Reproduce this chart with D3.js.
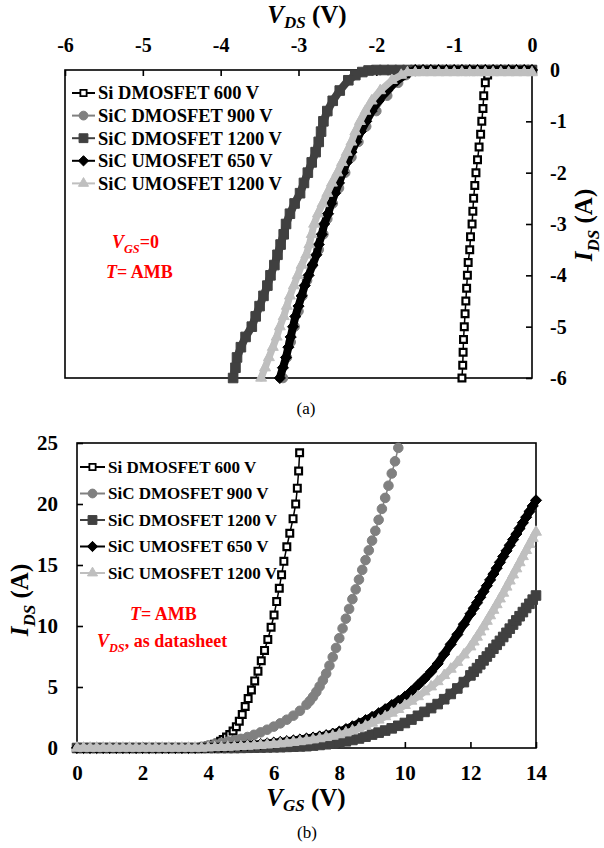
<!DOCTYPE html>
<html>
<head>
<meta charset="utf-8">
<script src="https://cdn.jsdelivr.net/npm/d3@7"></script>
<style>
  body { margin: 0; background: #fff; }
  svg, svg text { font-family: "Liberation Serif", "Times New Roman", serif; }
</style>
</head>
<body>
<div id="chart"></div>
<script>
// ---- series (same five devices in both panels) ----
const seriesNames = ["Si DMOSFET 600 V", "SiC DMOSFET 900 V", "SiC DMOSFET 1200 V", "SiC UMOSFET 650 V", "SiC UMOSFET 1200 V"];
const seriesStroke = ["#000", "#808080", "#404040", "#000", "#bfbfbf"];
const seriesFill = ["#fff", "#808080", "#404040", "#000", "#bfbfbf"];

// ---- (a) body diode, [V_DS, I_DS] ----
const vdsTicks = [-6, -5, -4, -3, -2, -1, 0];
const idsTicksA = [-6, -5, -4, -3, -2, -1, 0];

const siDmos600A = [[0,0],[-0.1,0],[-0.2,0],[-0.3,0],[-0.4,0],[-0.5,-0.02],[-0.57,-0.1],[-0.6,-0.25],[-0.62,-0.5],[-0.63,-0.75],
  [-0.645,-1],[-0.66,-1.25],[-0.68,-1.5],[-0.7,-1.75],[-0.72,-2],[-0.735,-2.25],[-0.75,-2.5],[-0.76,-2.75],[-0.77,-3],[-0.79,-3.25],
  [-0.8,-3.5],[-0.82,-3.75],[-0.83,-4],[-0.84,-4.25],[-0.85,-4.5],[-0.86,-4.75],[-0.87,-5],[-0.88,-5.25],[-0.885,-5.5],[-0.89,-5.75],[-0.9,-6]];

const sicDmos900A = [[0,0],[-0.3,0],[-0.6,0],[-0.9,0],[-1.2,0],[-1.5,-0.02],[-1.62,-0.1],[-1.72,-0.25],[-1.86,-0.5],[-2,-0.8],
  [-2.13,-1.1],[-2.23,-1.4],[-2.32,-1.7],[-2.4,-2],[-2.48,-2.3],[-2.56,-2.6],[-2.63,-2.9],[-2.68,-3.2],[-2.74,-3.5],[-2.82,-3.8],
  [-2.89,-4.1],[-2.95,-4.4],[-3,-4.7],[-3.05,-5],[-3.1,-5.3],[-3.15,-5.6],[-3.2,-6]];

const sicDmos1200A = [[0,0],[-0.1,0],[-0.2,0],[-0.3,0],[-0.4,0],[-0.5,0],[-0.6,0],[-0.7,0],[-0.8,0],[-0.9,0],
  [-1,0],[-1.1,0],[-1.2,0],[-1.3,0],[-1.4,0],[-1.5,0],[-1.6,0],[-1.7,0],[-1.8,0],[-1.9,0],
  [-2,0],[-2.1,-0.01],[-2.18,-0.04],[-2.27,-0.1],[-2.36,-0.2],[-2.47,-0.4],[-2.56,-0.6],[-2.63,-0.8],[-2.68,-1],[-2.71,-1.2],
  [-2.74,-1.4],[-2.78,-1.6],[-2.83,-1.8],[-2.88,-2],[-2.93,-2.2],[-2.98,-2.4],[-3.05,-2.6],[-3.11,-2.8],[-3.16,-3],[-3.19,-3.2],
  [-3.23,-3.4],[-3.27,-3.6],[-3.31,-3.8],[-3.36,-4],[-3.4,-4.2],[-3.45,-4.4],[-3.5,-4.6],[-3.55,-4.8],[-3.6,-5],[-3.68,-5.2],
  [-3.74,-5.4],[-3.79,-5.6],[-3.81,-5.8],[-3.84,-6]];

const sicUmos650A = [[0,0],[-0.1,0],[-0.2,0],[-0.3,0],[-0.4,0],[-0.5,0],[-0.6,0],[-0.7,0],[-0.8,0],[-0.9,0],
  [-1,0],[-1.1,0],[-1.2,0],[-1.3,0],[-1.4,0],[-1.5,0],[-1.58,-0.05],[-1.73,-0.2],[-1.86,-0.4],[-1.97,-0.6],
  [-2.06,-0.8],[-2.13,-1],[-2.2,-1.2],[-2.26,-1.4],[-2.32,-1.6],[-2.38,-1.8],[-2.43,-2],[-2.48,-2.2],[-2.53,-2.4],[-2.58,-2.6],
  [-2.62,-2.8],[-2.67,-3],[-2.7,-3.2],[-2.74,-3.4],[-2.77,-3.6],[-2.82,-3.8],[-2.87,-4],[-2.92,-4.2],[-2.96,-4.4],[-3,-4.6],
  [-3.04,-4.8],[-3.07,-5],[-3.1,-5.2],[-3.13,-5.4],[-3.16,-5.6],[-3.2,-5.8],[-3.24,-6]];

const sicUmos1200A = [[0,-0.05],[-0.1,-0.05],[-0.2,-0.05],[-0.3,-0.05],[-0.4,-0.05],[-0.5,-0.05],[-0.6,-0.05],[-0.7,-0.05],[-0.8,-0.05],[-0.9,-0.05],
  [-1,-0.05],[-1.1,-0.05],[-1.2,-0.05],[-1.3,-0.05],[-1.4,-0.05],[-1.5,-0.05],[-1.6,-0.05],[-1.68,-0.1],[-1.8,-0.2],[-1.95,-0.4],
  [-2.06,-0.6],[-2.14,-0.8],[-2.21,-1],[-2.27,-1.2],[-2.32,-1.4],[-2.38,-1.6],[-2.44,-1.8],[-2.5,-2],[-2.57,-2.2],[-2.63,-2.4],
  [-2.69,-2.6],[-2.75,-2.8],[-2.8,-3],[-2.83,-3.2],[-2.86,-3.4],[-2.9,-3.6],[-2.96,-3.8],[-3.01,-4],[-3.06,-4.2],[-3.11,-4.4],
  [-3.15,-4.6],[-3.19,-4.8],[-3.24,-5],[-3.28,-5.2],[-3.33,-5.4],[-3.38,-5.6],[-3.43,-5.8],[-3.48,-6]];

// ---- (b) transfer, V_GS sweep and I_DS ----
const vgsTicks = [0, 2, 4, 6, 8, 10, 12, 14];
const idsTicksB = [0, 5, 10, 15, 20, 25];

const siDmos600B = [[0,0],[0.2,0],[0.4,0],[0.6,0],[0.8,0],[1,0],[1.2,0],[1.4,0],[1.6,0],[1.8,0],
  [2,0],[2.2,0],[2.4,0],[2.6,0],[2.8,0],[3,0],[3.2,0],[3.4,0],[3.6,0],[3.7,0.02],
  [3.8,0.05],[3.9,0.1],[4,0.16],[4.1,0.23],[4.2,0.31],[4.3,0.42],[4.38,0.55],[4.46,0.7],[4.56,0.9],[4.66,1.1],
  [4.76,1.4],[4.86,1.75],[4.95,2.2],[5.04,2.75],[5.13,3.4],[5.22,4.05],[5.32,4.75],[5.42,5.5],[5.52,6.3],[5.62,7.15],
  [5.72,8],[5.82,8.9],[5.92,9.9],[6.01,10.9],[6.09,12],[6.17,13.1],[6.24,14.2],[6.31,15.3],[6.4,16.5],[6.49,17.6],
  [6.59,18.8],[6.67,20],[6.72,21.3],[6.76,22.7],[6.79,24.2]];

const sicDmos900B = [[0,0],[0.2,0],[0.4,0],[0.6,0],[0.8,0],[1,0],[1.2,0],[1.4,0],[1.6,0],[1.8,0],
  [2,0],[2.2,0],[2.4,0],[2.6,0],[2.8,0],[3,0],[3.2,0],[3.4,0],[3.6,0],[3.8,0.1],
  [4,0.2],[4.2,0.3],[4.4,0.42],[4.6,0.52],[4.8,0.63],[5,0.75],[5.2,0.9],[5.4,1.08],[5.6,1.28],[5.8,1.5],
  [6,1.75],[6.2,2.02],[6.4,2.32],[6.6,2.65],[6.8,3.05],[7,3.55],[7.1,3.85],[7.2,4.2],[7.3,4.6],[7.4,5.05],
  [7.5,5.55],[7.6,6.1],[7.7,6.75],[7.8,7.45],[7.9,8.2],[8,9],[8.1,9.8],[8.2,10.6],[8.3,11.4],[8.4,12.2],
  [8.5,13],[8.6,13.8],[8.7,14.6],[8.8,15.4],[8.9,16.2],[9,17],[9.1,17.8],[9.2,18.7],[9.3,19.6],[9.4,20.5],
  [9.5,21.5],[9.6,22.5],[9.7,23.5],[9.8,24.6]];

// shared gate sweep for the three slower SiC parts
const vgsSweep = [0,0.2,0.4,0.6,0.8,1,1.2,1.4,1.6,1.8,
  2,2.2,2.4,2.6,2.8,3,3.2,3.4,3.6,3.8,
  4,4.2,4.4,4.6,4.8,5,5.2,5.4,5.6,5.8,
  6,6.2,6.4,6.6,6.8,7,7.2,7.4,7.6,7.8,
  8,8.2,8.4,8.6,8.8,9,9.2,9.4,9.6,9.8,
  10,10.2,10.4,10.6,10.8,11,11.2,11.4,11.6,11.8,
  12,12.1,12.2,12.3,12.4,12.5,12.6,12.7,12.8,12.9,
  13,13.1,13.2,13.3,13.4,13.5,13.6,13.7,13.8,13.9,
  14];

const sicDmos1200B = [0,0,0,0,0,0,0,0,0,0,
  0,0,0,0,0,0,0,0,0,0,
  0,0,0,0,0,0.01,0.02,0.03,0.04,0.05,
  0.06,0.07,0.09,0.11,0.13,0.15,0.2,0.25,0.31,0.38,
  0.45,0.55,0.66,0.78,0.93,1.1,1.26,1.43,1.61,1.82,
  2.05,2.33,2.64,2.96,3.27,3.6,4,4.43,4.88,5.4,
  5.95,6.25,6.55,6.86,7.18,7.5,7.82,8.14,8.46,8.78,
  9.1,9.44,9.78,10.12,10.46,10.8,11.14,11.48,11.82,12.16,
  12.5];

const sicUmos650B = [0,0,0,0,0,0,0,0,0,0,
  0,0,0,0,0,0,0,0,0.01,0.03,
  0.05,0.07,0.09,0.12,0.16,0.2,0.24,0.28,0.32,0.38,
  0.44,0.5,0.56,0.62,0.7,0.78,0.86,0.95,1.05,1.18,
  1.35,1.55,1.78,2.02,2.28,2.55,2.85,3.18,3.52,3.86,
  4.2,4.65,5.15,5.68,6.25,6.9,7.7,8.5,9.3,10.15,
  11,11.45,11.9,12.35,12.82,13.3,13.78,14.26,14.74,15.22,
  15.7,16.16,16.62,17.08,17.54,18,18.46,18.92,19.38,19.84,
  20.3];

const sicUmos1200B = [0,0,0,0,0,0,0,0,0,0,
  0,0,0,0,0,0,0,0,0,0,
  0.02,0.04,0.06,0.08,0.1,0.13,0.16,0.19,0.22,0.26,
  0.3,0.35,0.41,0.47,0.53,0.6,0.68,0.77,0.87,0.98,
  1.1,1.25,1.41,1.59,1.8,2.05,2.3,2.58,2.87,3.17,
  3.5,3.85,4.22,4.62,5.02,5.45,5.95,6.47,7.03,7.64,
  8.3,8.7,9.1,9.52,9.95,10.4,10.85,11.3,11.76,12.23,
  12.7,13.2,13.7,14.2,14.7,15.2,15.7,16.2,16.7,17.2,
  17.7];

// ---- markers ----
const diamond = {
  draw(ctx, size) {
    const r = Math.sqrt(size / 2);
    ctx.moveTo(0, -r); ctx.lineTo(r, 0); ctx.lineTo(0, r); ctx.lineTo(-r, 0); ctx.closePath();
  }
};
const shapes = [d3.symbolSquare, d3.symbolCircle, d3.symbolSquare, diamond, d3.symbolTriangle];
const markerSize = [46, 72, 92, 62, 52];
const markerStroke = [2.2, 1, 1, 1, 1];
// the dense SiC markers merge into a solid band in the original
const bandWidth = [1.5, 1.5, 8, 8, 7];

const svg = d3.select("#chart").append("svg")
  .attr("width", 604)
  .attr("height", 848);
svg.append("rect").attr("width", 604).attr("height", 848).attr("fill", "#fff");

function drawSeries(g, x, y, pts, i) {
  g.append("path")
    .datum(pts)
    .attr("fill", "none")
    .attr("stroke", seriesStroke[i])
    .attr("stroke-width", bandWidth[i])
    .attr("stroke-linejoin", "round")
    .attr("stroke-linecap", "round")
    .attr("d", d3.line().x(d => x(d[0])).y(d => y(d[1])));
  g.append("g")
    .selectAll("path")
    .data(pts)
    .join("path")
    .attr("transform", d => `translate(${x(d[0])},${y(d[1])})`)
    .attr("d", d3.symbol(shapes[i], markerSize[i]))
    .attr("fill", seriesFill[i])
    .attr("stroke", seriesStroke[i])
    .attr("stroke-width", markerStroke[i]);
}

function drawLegend(g, x0, y0, step, len, fs, k) {
  seriesNames.forEach((name, i) => {
    const y = y0 + i * step;
    g.append("line")
      .attr("x1", x0).attr("x2", x0 + len).attr("y1", y).attr("y2", y)
      .attr("stroke", seriesStroke[i]).attr("stroke-width", 2);
    g.append("path")
      .attr("transform", `translate(${x0 + len / 2},${y})`)
      .attr("d", d3.symbol(shapes[i], markerSize[i] * k)())
      .attr("fill", seriesFill[i])
      .attr("stroke", seriesStroke[i])
      .attr("stroke-width", i === 0 ? 1.8 : 1);
    g.append("text")
      .attr("x", x0 + len + 3).attr("y", y).attr("dy", "0.35em")
      .attr("font-size", fs).attr("font-weight", "bold")
      .text(name);
  });
}

// text with italic / subscript runs
function richText(g, x, y, parts, o) {
  const t = g.append("text")
    .attr("x", x).attr("y", y)
    .attr("font-size", o.size)
    .attr("font-weight", "bold")
    .attr("fill", o.fill || "#000")
    .attr("text-anchor", o.anchor || "start");
  if (o.rotate) t.attr("transform", `rotate(${o.rotate},${x},${y})`);
  let shift = 0;
  parts.forEach(p => {
    const s = t.append("tspan").text(p.t);
    if (p.i) s.attr("font-style", "italic");
    const want = p.sub ? o.size * (o.subShift || 0.26) : 0;
    if (want !== shift) { s.attr("dy", want - shift); shift = want; }
    if (p.sub) s.attr("font-size", o.size * 0.68);
  });
}

function styleAxis(sel, fs) {
  sel.attr("font-family", null).attr("font-size", null);
  sel.select(".domain").remove();
  sel.selectAll(".tick line").attr("stroke", "#000").attr("stroke-width", 1.6);
  sel.selectAll(".tick text")
    .attr("font-size", fs)
    .attr("font-weight", "bold")
    .attr("fill", "#000");
}

// ================= (a) =================
const xA = d3.scaleLinear().domain([-6, 0]).range([65, 532]);
const yA = d3.scaleLinear().domain([-6, 0]).range([378, 70]);
const gA = svg.append("g");

gA.append("rect")
  .attr("x", xA(-6)).attr("y", yA(0))
  .attr("width", xA(0) - xA(-6)).attr("height", yA(-6) - yA(0))
  .attr("fill", "none").attr("stroke", "#000").attr("stroke-width", 1.6);

gA.append("g")
  .attr("transform", `translate(0,${yA(0)})`)
  .call(d3.axisTop(xA).tickValues(vdsTicks).tickSize(-6).tickPadding(18).tickFormat(d => d))
  .call(s => styleAxis(s, 20));

gA.append("g")
  .attr("transform", `translate(${xA(0)},0)`)
  .call(d3.axisRight(yA).tickValues(idsTicksA).tickSize(-6).tickPadding(18).tickFormat(d => d))
  .call(s => styleAxis(s, 20));

[siDmos600A, sicDmos900A, sicDmos1200A, sicUmos650A, sicUmos1200A]
  .forEach((pts, i) => drawSeries(gA, xA, yA, pts, i));

drawLegend(gA, 72, 93, 22.6, 23, 18.5, 0.85);

richText(gA, 307, 23, [{t: "V", i: true}, {t: "DS", i: true, sub: true}, {t: " (V)"}], {size: 25, anchor: "middle", subShift: 0.2});
richText(gA, 592, 225, [{t: "I", i: true}, {t: "DS", i: true, sub: true}, {t: " (A)"}], {size: 25, anchor: "middle", rotate: -90});

richText(gA, 112, 248, [{t: "V", i: true}, {t: "GS", i: true, sub: true}, {t: "=0"}], {size: 18, fill: "#ff0000"});
richText(gA, 106, 278, [{t: "T", i: true}, {t: "= AMB"}], {size: 18, fill: "#ff0000"});

gA.append("text")
  .attr("x", 306).attr("y", 414)
  .attr("text-anchor", "middle").attr("font-size", 17)
  .text("(a)");

// ================= (b) =================
const xB = d3.scaleLinear().domain([0, 14]).range([77, 536]);
const yB = d3.scaleLinear().domain([0, 25]).range([748, 443]);
const gB = svg.append("g");

gB.append("rect")
  .attr("x", xB(0)).attr("y", yB(25))
  .attr("width", xB(14) - xB(0)).attr("height", yB(0) - yB(25))
  .attr("fill", "none").attr("stroke", "#000").attr("stroke-width", 1.6);

gB.append("g")
  .attr("transform", `translate(${xB(0)},0)`)
  .call(d3.axisLeft(yB).tickValues(idsTicksB).tickSize(-6).tickPadding(19).tickFormat(d => d))
  .call(s => styleAxis(s, 21));

gB.append("g")
  .attr("transform", `translate(0,${yB(0)})`)
  .call(d3.axisBottom(xB).tickValues(vgsTicks).tickSize(-6).tickPadding(17).tickFormat(d => d))
  .call(s => styleAxis(s, 21));

const sweepPairs = ids => vgsSweep.map((v, k) => [v, ids[k]]);
[siDmos600B, sicDmos900B, sweepPairs(sicDmos1200B), sweepPairs(sicUmos650B), sweepPairs(sicUmos1200B)]
  .forEach((pts, i) => drawSeries(gB, xB, yB, pts, i));

drawLegend(gB, 80, 467, 26.5, 25, 17, 0.85);

richText(gB, 306, 806, [{t: "V", i: true}, {t: "GS", i: true, sub: true}, {t: " (V)"}], {size: 25, anchor: "middle", subShift: 0.2});
richText(gB, 28, 600, [{t: "I", i: true}, {t: "DS", i: true, sub: true}, {t: " (A)"}], {size: 25, anchor: "middle", rotate: -90});

richText(gB, 130, 620, [{t: "T", i: true}, {t: "= AMB"}], {size: 18, fill: "#ff0000"});
richText(gB, 97, 647, [{t: "V", i: true}, {t: "DS", i: true, sub: true}, {t: ", as datasheet"}], {size: 18, fill: "#ff0000"});

gB.append("text")
  .attr("x", 307).attr("y", 838)
  .attr("text-anchor", "middle").attr("font-size", 17)
  .text("(b)");
</script>
</body>
</html>
